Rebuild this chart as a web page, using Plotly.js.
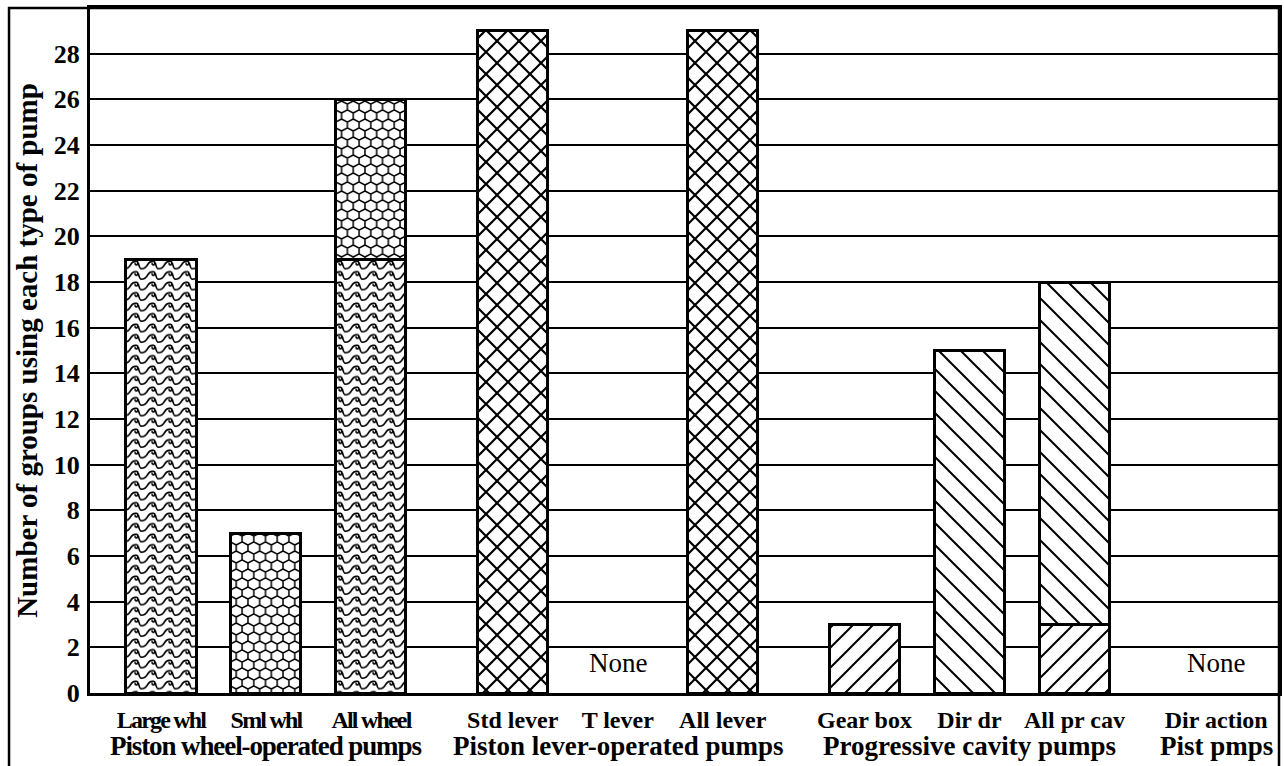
<!DOCTYPE html>
<html><head><meta charset="utf-8">
<script src="https://cdn.plot.ly/plotly-3.0.1.min.js"></script>
<style>html,body{margin:0;padding:0;background:#fff}#chart{width:1284px;height:766px}</style>
</head><body><div id="chart"></div>
<script>
// ---- data ----
const categories = ['Large whl','Sml whl','All wheel','Std lever','T lever','All lever','Gear box','Dir dr','All pr cav','Dir action'];
const groupNames = ['Piston wheel-operated pumps','Piston lever-operated pumps','Progressive cavity pumps','Pist pmps'];
const groupCentre = ['Sml whl','T lever','Dir dr','Dir action'];
const largeWheel   = [19, null, 19, null, null, null, null, null, null, null];
const smallWheel   = [null, 7, 7, null, null, null, null, null, null, null];
const stdLever     = [null, null, null, 29, null, 29, null, null, null, null];
const gearBox      = [null, null, null, null, null, null, 3, null, 3, null];
const directDrive  = [null, null, null, null, null, null, null, 15, 15, null];
const noneCats     = ['T lever','Dir action'];
const yTicks       = [0,2,4,6,8,10,12,14,16,18,20,22,24,26,28];

// ---- layout helpers ----
const slot = [0,1,2,3.35,4.35,5.35,6.7,7.7,8.7,10.05];
const pos = c => slot[categories.indexOf(c)];
const serif = '"Liberation Serif","Times New Roman",serif';
const condensed = t => '<span style="letter-spacing:-1.8px">' + t + '</span>';
const tickText = categories.map((c,i) => i < 3 ? condensed(c) : c);

function barTrace(vals){
  return {
    type:'bar', x: slot, y: vals, width: 0.667,
    marker:{color:'#fff', line:{color:'#000', width:3},
      pattern:{shape:'.', size:10, solidity:0.2, fgcolor:'#000', bgcolor:'#fff', fillmode:'overlay'}},
    hoverinfo:'skip', showlegend:false
  };
}
const data = [barTrace(largeWheel), barTrace(smallWheel), barTrace(stdLever), barTrace(gearBox), barTrace(directDrive)];

const annotations = [];
groupNames.forEach((g,i) => annotations.push({
  xref:'x', yref:'paper', x: pos(groupCentre[i]), y:0, yshift:-53, yanchor:'middle', xanchor:'center',
  text: i === 0 ? '<span style="letter-spacing:-1.1px">' + g + '</span>' : g, showarrow:false,
  font:{family:serif, size:27, color:'#000', weight:'bold'}
}));
noneCats.forEach(c => annotations.push({
  xref:'x', yref:'y', x: pos(c), y: 1.3, text:'None', showarrow:false,
  font:{family:serif, size:27, color:'#000'}
}));

const layout = {
  width:1284, height:766, margin:{l:90, r:5, t:8, b:73},
  paper_bgcolor:'#fff', plot_bgcolor:'#fff', barmode:'stack', bargap:0,
  font:{family:serif, color:'#000'},
  xaxis:{range:[-0.676, 10.648], tickvals: slot, ticktext: tickText, showgrid:false, zeroline:false,
    showline:true, mirror:true, linecolor:'#000', linewidth:3, ticks:'', ticklabelstandoff:3,
    tickfont:{family:serif, size:24, color:'#000', weight:'bold'}, fixedrange:true},
  yaxis:{range:[0,30], tickvals: yTicks, showgrid:true, gridcolor:'#000', gridwidth:2, zeroline:false,
    showline:true, mirror:true, linecolor:'#000', linewidth:3, ticks:'', ticklabelstandoff:2,
    tickfont:{family:serif, size:26, color:'#000', weight:'bold'},
    title:{text:'Number of groups using each type of pump', standoff:8,
      font:{family:serif, size:29, color:'#000', weight:'bold'}}, fixedrange:true},
  annotations: annotations,
  shapes:[{type:'path', xref:'paper', yref:'paper', path:'M -0.0681 -0.2 L -0.0681 1 L 1 1 L 1 -0.2',
    line:{color:'#000', width:2.5}, layer:'above'}]
};

// ---- fill tiles (pattern styles) ----
function hexSvg(){
  const W = 11.7, a = 6, b = 3, cells = [[0,0],[W,0],[W/2,9],[0,18],[W,18]];
  let d = '';
  cells.forEach(([x,y]) => {
    d += 'M'+x+' '+(y-a)+' L'+(x+W/2)+' '+(y-b)+' L'+(x+W/2)+' '+(y+b)+' L'+x+' '+(y+a)+
         ' L'+(x-W/2)+' '+(y+b)+' L'+(x-W/2)+' '+(y-b)+' Z ';
  });
  return '<rect width="'+W+'" height="18" fill="#fff"/><path d="'+d+'" fill="none" stroke="#000" stroke-width="1.5"/>';
}
function diagSvg(p, dir, sw){
  let d = '';
  if(dir === '/' || dir === 'x') d += 'M0 '+p+' L'+p+' 0 M-2 2 L2 -2 M'+(p-2)+' '+(p+2)+' L'+(p+2)+' '+(p-2)+' ';
  if(dir === '\\' || dir === 'x') d += 'M0 0 L'+p+' '+p+' M'+(p-2)+' -2 L'+(p+2)+' 2 M-2 '+(p-2)+' L2 '+(p+2)+' ';
  return '<rect width="'+p+'" height="'+p+'" fill="#fff"/><path d="'+d+'" fill="none" stroke="#000" stroke-width="'+sw+'"/>';
}
const tiles = [
  {w:17, h:10.5, svg:'<rect width="17" height="10.5" fill="#fff"/>' +
    '<path d="M0 8.8 C3 8.8 5.2 7.2 6.6 4.6 C8 2 10.4 0.9 12.6 1.4 C14.6 1.9 14.4 4.8 12.3 4.8 C11 4.8 10.8 3.6 11.6 3.1 M14.3 3 C15 5.8 15.8 8.8 17 8.8" fill="none" stroke="#000" stroke-width="1.7"/>'},
  {w:11.7, h:18, svg: hexSvg()},
  {w:22, h:22, svg: diagSvg(22, 'x', 2.2)},
  {w:20, h:20, svg: diagSvg(20, '/', 2)},
  {w:22, h:22, svg: diagSvg(22, '\\', 2)}
];

function customPatterns(gd){
  const traces = gd.querySelectorAll('.barlayer .trace');
  tiles.forEach((tile, i) => {
    const tr = traces[i]; if(!tr) return;
    tr.querySelectorAll('path').forEach(p => {
      const f = (p.getAttribute('style') || '') + ' ' + (p.getAttribute('fill') || '');
      const m = f.match(/#([^'")\s]+)/);
      if(!m) return;
      const pat = document.getElementById(m[1]);
      if(!pat) return;
      pat.setAttribute('width', tile.w); pat.setAttribute('height', tile.h);
      pat.setAttribute('patternUnits','userSpaceOnUse');
      pat.innerHTML = tile.svg;
    });
  });
}

const gd = document.getElementById('chart');
Plotly.newPlot(gd, data, layout, {displayModeBar:false, staticPlot:true}).then(() => customPatterns(gd));
</script></body></html>
